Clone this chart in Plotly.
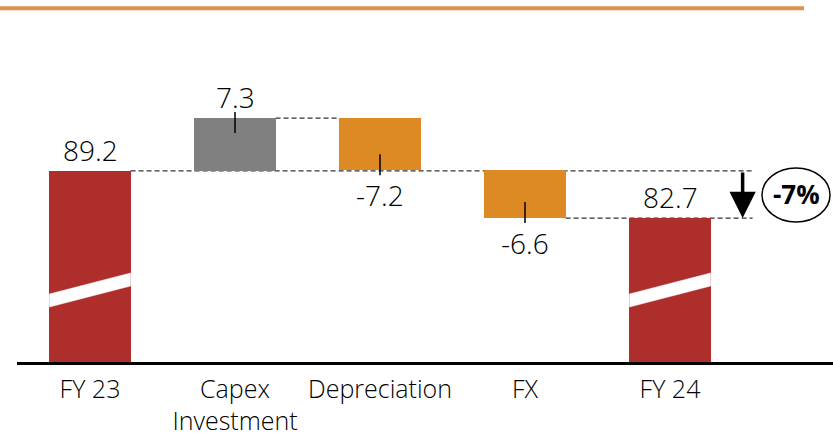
import plotly.graph_objects as go

# ---- data ----
categories = ["FY 23", "Capex<br>Investment", "Depreciation", "FX", "FY 24"]
values = [89.2, 7.3, -7.2, -6.6, 82.7]
kinds = ["total", "delta", "delta", "delta", "total"]
value_labels = ["89.2", "7.3", "-7.2", "-6.6", "82.7"]

# ---- style ----
RED = "#AD2E2A"
GREY = "#808080"
ORANGE = "#DD8A25"
FONT = "Open Sans"
LIGHT = 300

# figure geometry
W, H = 833, 436
M_L, M_R, M_T, M_B = 17, 0, 30, 74
Y_MIN, Y_MAX = 62.83, 108.65
X_MIN, X_MAX = -0.5034, 5.124
BAR_W = 0.56

plot_h = H - M_T - M_B
plot_w = W - M_L - M_R
upx = (Y_MAX - Y_MIN) / plot_h      # data units per pixel (y)
xpx = (X_MAX - X_MIN) / plot_w      # data units per pixel (x)

xs = list(range(len(categories)))

# running totals for the floating bars
bases, heights, colors, tops, bottoms = [], [], [], [], []
running = None
for k, v in zip(kinds, values):
    if k == "total":
        bases.append(Y_MIN)
        heights.append(v - Y_MIN)
        colors.append(RED)
        running = v
        tops.append(v)
        bottoms.append(Y_MIN)
    else:
        start = running
        running = start + v
        bases.append(start)
        heights.append(v)
        colors.append(GREY if v > 0 else ORANGE)
        tops.append(max(start, running))
        bottoms.append(min(start, running))

fig = go.Figure()

fig.add_trace(go.Bar(
    x=xs, y=heights, base=bases, width=BAR_W,
    marker=dict(color=colors, line=dict(width=0)),
    hoverinfo="skip", showlegend=False,
))

# axis-break bands on the total bars
for i, k in enumerate(kinds):
    if k != "total":
        continue
    xl, xr = i - BAR_W / 2, i + BAR_W / 2
    fig.add_trace(go.Scatter(
        x=[xl, xr, xr, xl, xl],
        y=[Y_MIN + 55 * upx, Y_MIN + 76 * upx, Y_MIN + 89 * upx,
           Y_MIN + 68 * upx, Y_MIN + 55 * upx],
        mode="lines", fill="toself", fillcolor="white",
        line=dict(width=0.5, color="white"),
        hoverinfo="skip", showlegend=False,
    ))

shapes = []
dash_style = dict(color="#333333", width=1.2, dash="5px,3px")
x_end = 4 + BAR_W / 2 + 42 * xpx   # dashed guides run past the last bar

# dashed connectors
start_total = values[0]
end_total = values[-1]
shapes.append(dict(type="line", xref="x", yref="y", layer="below",
                   x0=0 + BAR_W / 2, x1=x_end, y0=start_total, y1=start_total,
                   line=dash_style))
shapes.append(dict(type="line", xref="x", yref="y", layer="below",
                   x0=1 + BAR_W / 2, x1=2 - BAR_W / 2, y0=tops[1], y1=tops[1],
                   line=dash_style))
shapes.append(dict(type="line", xref="x", yref="y", layer="below",
                   x0=3 + BAR_W / 2, x1=x_end, y0=end_total, y1=end_total,
                   line=dash_style))

# short leader ticks joining delta labels to their bars
for i, k in enumerate(kinds):
    if k != "delta":
        continue
    if values[i] > 0:
        y0, y1 = tops[i] + 6 * upx, tops[i] - 15 * upx
    else:
        y0, y1 = bottoms[i] - 5 * upx, bottoms[i] + 16 * upx
    shapes.append(dict(type="line", xref="x", yref="y", x0=i, x1=i,
                       y0=y0, y1=y1, line=dict(color="black", width=1.5)))

# top rule
shapes.append(dict(type="line", xref="paper", yref="paper",
                   x0=-M_L / plot_w, x1=(804 - M_L) / plot_w,
                   y0=1 + (M_T - 8.3) / plot_h, y1=1 + (M_T - 8.3) / plot_h,
                   line=dict(color="#E0914A", width=4)))

# change ellipse
arrow_x = 4 + BAR_W / 2 + 32 * xpx
ell_cx = 4 + (796 - 670) * xpx
ell_cy = end_total + 23 * upx
shapes.append(dict(type="circle", xref="x", yref="y",
                   x0=ell_cx - 34 * xpx, x1=ell_cx + 34 * xpx,
                   y0=ell_cy - 27 * upx, y1=ell_cy + 27 * upx,
                   line=dict(color="black", width=1.5)))

annotations = []
for i, (k, v, lab) in enumerate(zip(kinds, values, value_labels)):
    if k == "total" or v > 0:
        y = tops[i]
        shift = 21
    else:
        y = bottoms[i]
        shift = -25
    annotations.append(dict(x=i, y=y, xref="x", yref="y", text=lab,
                            showarrow=False, yanchor="middle", yshift=shift,
                            font=dict(family=FONT, size=28, color="black",
                                      weight=LIGHT)))

pct = round((end_total - start_total) / start_total * 100)
annotations.append(dict(x=arrow_x, y=end_total, ax=arrow_x, ay=start_total,
                        xref="x", yref="y", axref="x", ayref="y", text="",
                        showarrow=True, arrowhead=2, arrowsize=1.5,
                        arrowwidth=3.5, arrowcolor="black", standoff=0))
annotations.append(dict(x=ell_cx, y=ell_cy, xref="x", yref="y",
                        text=f"<b>{pct}%</b>", showarrow=False, yshift=1,
                        font=dict(family=FONT, size=26, color="black")))

fig.update_layout(
    width=W, height=H,
    margin=dict(l=M_L, r=M_R, t=M_T, b=M_B, autoexpand=False),
    paper_bgcolor="white", plot_bgcolor="white",
    bargap=0, showlegend=False,
    shapes=shapes, annotations=annotations,
    xaxis=dict(range=[X_MIN, X_MAX], tickvals=xs, ticktext=categories,
               showgrid=False, zeroline=False, showline=True,
               linecolor="black", linewidth=2.5, ticks="outside",
               ticklen=3, tickcolor="rgba(0,0,0,0)",
               tickfont=dict(family=FONT, size=25, color="black",
                             weight=LIGHT),
               automargin=False, fixedrange=True),
    yaxis=dict(range=[Y_MIN, Y_MAX], visible=False, automargin=False,
               fixedrange=True),
)

fig.write_html("out.html")
